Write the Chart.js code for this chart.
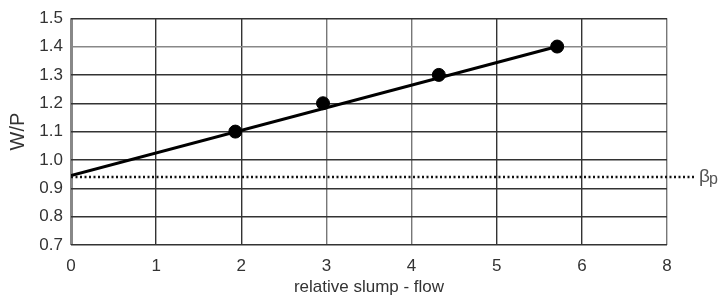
<!DOCTYPE html>
<html>
<head>
<meta charset="utf-8">
<script src="https://cdn.jsdelivr.net/npm/chart.js@4"></script>
<style>
  html, body { margin: 0; padding: 0; background: #fff; }
  #wrap { width: 720px; height: 302px; }
</style>
</head>
<body>
<div id="wrap"><canvas id="chartWP"></canvas></div>
<script>
// tick labels on the x axis (last slot is labelled 8)
const xTickLabels = ['0', '1', '2', '3', '4', '5', '6', '8']
// measured points
const slumpFlow = [1.93, 2.96, 4.32, 5.71]
const wpRatio = [1.10, 1.20, 1.30, 1.40]
// fitted line end points
const fitX = [0, 5.71]
const fitY = [0.945, 1.40]
// beta p level
const betaP = 0.94

const ctx = document.getElementById('chartWP')

// light grey grid lines for some positions
const lightX = [3, 4, 7]
const lightY = [1.4]

const betaLine = {
  id: 'betaLine',
  afterDatasetsDraw(chart) {
    const c = chart.ctx
    const area = chart.chartArea
    const y = chart.scales.y.getPixelForValue(betaP)
    const x0 = chart.scales.x.getPixelForValue(0)
    c.save()
    c.strokeStyle = '#111'
    c.lineWidth = 2.5
    c.setLineDash([2, 2.5])
    c.beginPath()
    c.moveTo(x0, y)
    c.lineTo(area.right + 28, y)
    c.stroke()
    c.setLineDash([])
    c.fillStyle = '#555'
    c.textBaseline = 'middle'
    c.font = '19px "Liberation Sans", Arial, sans-serif'
    c.fillText('β', area.right + 32, y)
    c.font = '16px "Liberation Sans", Arial, sans-serif'
    c.fillText('p', area.right + 42, y + 3)
    c.restore()
  }
}

var chartWP = new Chart(ctx, {
  type: 'scatter',
  data: {
    datasets: [{
      type: 'line',
      data: fitX.map((x, i) => ({ x: x, y: fitY[i] })),
      borderColor: '#000',
      borderWidth: 3,
      pointRadius: 0
    }, {
      data: slumpFlow.map((x, i) => ({ x: x, y: wpRatio[i] })),
      backgroundColor: '#000',
      borderColor: '#000',
      pointRadius: 6.5
    }]
  },
  options: {
    responsive: true,
    maintainAspectRatio: false,
    animation: false,
    layout: { padding: { left: 0, right: 53, top: 17, bottom: 0 } },
    plugins: { legend: { display: false }, tooltip: { enabled: false } },
    scales: {
      x: {
        type: 'linear',
        min: 0,
        max: 7,
        afterFit: (s) => { s.height = 57 },
        ticks: {
          stepSize: 1,
          padding: 11,
          color: '#333',
          font: { size: 17, family: '"Liberation Sans", Arial, sans-serif' },
          callback: (v) => xTickLabels[v]
        },
        grid: {
          drawTicks: false,
          lineWidth: (c) => c.index === 0 ? 3 : 1.4,
          color: (c) => c.index === 0 ? '#888' : (lightX.includes(c.tick.value) ? '#777' : '#333')
        },
        border: { display: false },
        title: {
          display: true,
          text: 'relative slump - flow',
          color: '#333',
          padding: { top: 6 },
          font: { size: 17, family: '"Liberation Sans", Arial, sans-serif' }
        }
      },
      y: {
        min: 0.7,
        max: 1.5,
        afterFit: (s) => { s.width = 71 },
        ticks: {
          stepSize: 0.1,
          padding: 8,
          color: '#333',
          font: { size: 17, family: '"Liberation Sans", Arial, sans-serif' },
          callback: (v) => v.toFixed(1)
        },
        grid: {
          drawTicks: false,
          lineWidth: 1.4,
          color: (c) => lightY.includes(Math.round(c.tick.value * 10) / 10) ? '#888' : '#333'
        },
        border: { display: false },
        title: {
          display: true,
          text: 'W/P',
          color: '#333',
          padding: { top: 6, bottom: 0 },
          font: { size: 20, family: '"Liberation Sans", Arial, sans-serif' }
        }
      }
    }
  },
  plugins: [betaLine]
})
</script>
</body>
</html>
